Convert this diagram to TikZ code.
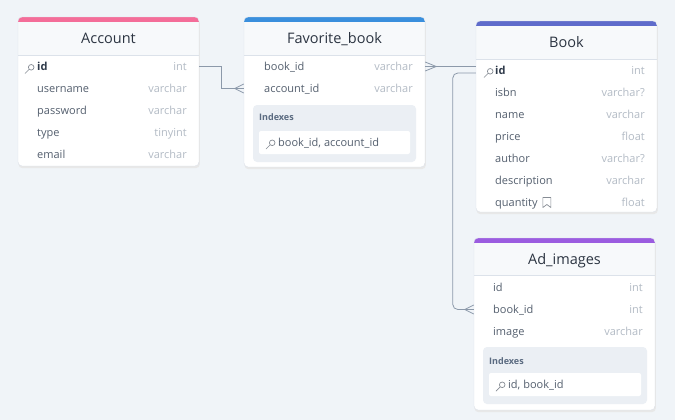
\documentclass[tikz,border=0pt]{standalone}
\usepackage{fontspec}
\setmainfont{Open Sans}
\usetikzlibrary{calc,fit}
\definecolor{bgc}{HTML}{F0F4F8}
\definecolor{hdrbg}{HTML}{F7F9FB}
\definecolor{hdrline}{HTML}{DCE2EA}
\definecolor{namec}{HTML}{545F6E}
\definecolor{pkc}{HTML}{2F3A4A}
\definecolor{typec}{HTML}{B3BBC5}
\definecolor{titlec}{HTML}{2B3441}
\definecolor{idxbg}{HTML}{EBEFF4}
\definecolor{idxlab}{HTML}{5A6A80}
\definecolor{linec}{HTML}{8C99AA}
\definecolor{accc}{HTML}{F46D99}
\definecolor{favc}{HTML}{3A8FDD}
\definecolor{bookc}{HTML}{5E6BCB}
\definecolor{adc}{HTML}{9B5CE0}
\tikzset{
  titlestyle/.style={anchor=base, font=\fontsize{14.5}{17}\selectfont, text=titlec, inner sep=0},
  fname/.style={anchor=base west, font=\fontsize{11}{13}\selectfont, text=namec, inner sep=0},
  pkname/.style={anchor=base west, font=\fontsize{11}{13}\selectfont\bfseries, text=pkc, inner sep=0},
  ftype/.style={anchor=base east, font=\fontsize{11}{13}\selectfont, text=typec, inner sep=0},
  idxlabel/.style={anchor=base west, font=\fontsize{9}{11}\selectfont\bfseries, text=idxlab, inner sep=0},
  idxtext/.style={anchor=base west, font=\fontsize{11}{13}\selectfont, text=namec, inner sep=0},
  conn/.style={draw=linec, line width=0.8pt},
  keyicon/.style={draw=typec!75!black, line width=0.7pt},
}
\newcommand\erTable[8]{%
  \fill[black!9,rounded corners=4] (#2+0.5,#3+2) rectangle (#4+0.8,#5+2.2);
  \begin{scope}
    \clip[rounded corners=4] (#2,#3) rectangle (#4,#5);
    \fill[white] (#2,#3) rectangle (#4,#5);
    \fill[#7] (#2,#3) rectangle (#4,#3+5);
    \fill[hdrbg] (#2,#3+5) rectangle (#4,#6);
    \draw[hdrline,line width=0.8pt] (#2,#6) -- (#4,#6);
  \end{scope}
  \draw[hdrline,line width=0.4pt,rounded corners=4] (#2,#3) rectangle (#4,#5);
  \node[fit={(#2,#3)(#4,#5)},inner sep=0] (#1) {};
  \node[titlestyle] (#1-title) at ($(#2,#3+6)!.5!(#4,#6)+(0,5)$) {#8};
}
\newcommand\keyAt[2]{%
  \draw[keyicon] (#1+2.2,#2-2.2) circle (2.8);
  \draw[keyicon,line cap=round] (#1+0.2,#2-0.2) -- (#1-4,#2+4);
}
\newcommand\idxBox[4]{%
  \fill[idxbg,rounded corners=4] (#1,#2) rectangle (#3,#4);
  \fill[white,rounded corners=2] (#1+6,#2+26) rectangle (#3-6,#4-8);
}
\newcommand\crowL[1]{%
  \draw[conn] ($(#1)+(-9,0)$) -- ($(#1)+(0,-4.5)$);
  \draw[conn] ($(#1)+(-9,0)$) -- ($(#1)+(0,4.5)$);
  \draw[conn] ($(#1)+(-9,0)$) -- (#1);
}
\newcommand\crowR[1]{%
  \draw[conn] ($(#1)+(11,0)$) -- ($(#1)+(0,-4.5)$);
  \draw[conn] ($(#1)+(11,0)$) -- ($(#1)+(0,4.5)$);
  \draw[conn] ($(#1)+(11,0)$) -- (#1);
}
\begin{document}
\begin{tikzpicture}[x=1pt,y=-1pt]
\fill[bgc] (0,0) rectangle (675,420);
\useasboundingbox (0,0) rectangle (675,420);

% ---------- Account ----------
\erTable{acc}{18}{17}{199}{166}{55}{accc}{Account}
\keyAt{29}{69.5}
\node[pkname] (acc-id) at (37,70.5) {id};
\node[ftype] at (187,70.5) {int};
\node[fname] (acc-username) at (37,92.5) {username};
\node[ftype] at (187,92.5) {varchar};
\node[fname] (acc-password) at (37,114.5) {password};
\node[ftype] at (187,114.5) {varchar};
\node[fname] (acc-type) at (37,136.5) {type};
\node[ftype] at (187,136.5) {tinyint};
\node[fname] (acc-email) at (37,158.5) {email};
\node[ftype] at (187,158.5) {varchar};

% ---------- Favorite_book ----------
\erTable{fav}{244}{17}{425}{167}{55}{favc}{Favorite\_book}
\node[fname] (fav-book) at (264,70.5) {book\_id};
\node[ftype] at (413,70.5) {varchar};
\node[fname] (fav-acc) at (264,92.5) {account\_id};
\node[ftype] at (413,92.5) {varchar};
\idxBox{253}{105}{416}{162}
\node[idxlabel] (fav-idx) at (259,121) {Indexes};
\keyAt{270}{145}
\node[idxtext] (fav-idxe) at (278,146) {book\_id, account\_id};

% ---------- Book ----------
\erTable{book}{476}{21}{657}{212}{59}{bookc}{Book}
\keyAt{488}{73.5}
\node[pkname] (book-id) at (495,74.5) {id};
\node[ftype] at (645,74.5) {int};
\node[fname] (book-isbn) at (495,96.5) {isbn};
\node[ftype] at (645,96.5) {varchar?};
\node[fname] (book-name) at (495,118.5) {name};
\node[ftype] at (645,118.5) {varchar};
\node[fname] (book-price) at (495,140.5) {price};
\node[ftype] at (645,140.5) {float};
\node[fname] (book-author) at (495,162.5) {author};
\node[ftype] at (645,162.5) {varchar?};
\node[fname] (book-desc) at (495,184.5) {description};
\node[ftype] at (645,184.5) {varchar};
\node[fname] (book-qty) at (495,206.5) {quantity};
\node[ftype] at (645,206.5) {float};
\draw[keyicon,line join=round] ($(book-qty.base east)+(5,-9)$) -- ++(0,10) -- ++(4,-3) -- ++(4,3) -- ++(0,-10) -- cycle;

% ---------- Ad_images ----------
\erTable{ad}{474}{238}{655}{410}{275}{adc}{Ad\_images}
\node[fname] (ad-id) at (493,291.5) {id};
\node[ftype] at (643,291.5) {int};
\node[fname] (ad-book) at (493,313.5) {book\_id};
\node[ftype] at (643,313.5) {int};
\node[fname] (ad-image) at (493,335.5) {image};
\node[ftype] at (643,335.5) {varchar};
\idxBox{483}{347}{647}{404}
\node[idxlabel] (ad-idx) at (489,364) {Indexes};
\keyAt{500}{387}
\node[idxtext] (ad-idxe) at (508,388) {id, book\_id};

% ---------- connectors ----------
\coordinate (c1s) at ($(acc.east |- acc-id.base)+(0,-4)$);
\coordinate (c1e) at ($(fav.west |- fav-acc.base)+(0,-4)$);
\draw[conn] (c1s) -| ($(c1s)!.5!(c1e)$) |- ($(c1e)+(-9,0)$);
\crowL{c1e}

\coordinate (c2s) at ($(fav.east |- fav-book.base)+(0,-4)$);
\coordinate (c2e) at (book.west |- c2s);
\draw[conn] ($(c2s)+(11,0)$) -- (c2e);
\crowR{c2s}

\coordinate (c3s) at ($(book.west |- book-id.base)+(0,-1.5)$);
\coordinate (c3e) at ($(ad.west |- ad-book.base)+(0,-4)$);
\draw[conn,rounded corners=5] (c3s) -- ++(-23,0) |- ($(c3e)+(-9,0)$);
\crowL{c3e}
\end{tikzpicture}
\end{document}
